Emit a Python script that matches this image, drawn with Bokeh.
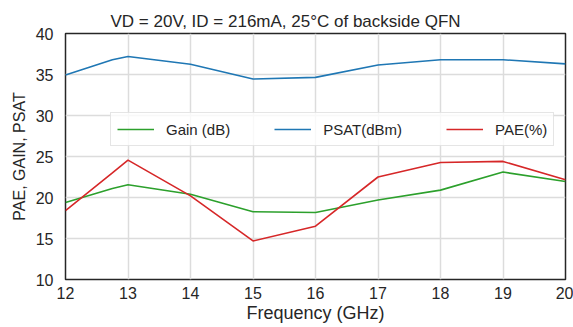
from bokeh.plotting import figure
from bokeh.models import Legend, LegendItem, Title, FixedTicker
from bokeh.embed import file_html
from bokeh.resources import INLINE

freq = [12, 12.75, 13, 14, 15, 16, 17, 18, 19, 20]
gain_db = [19.4, 21.1, 21.55, 20.4, 18.26, 18.17, 19.7, 20.9, 23.1, 21.95]
psat_dbm = [34.95, 36.8, 37.2, 36.25, 34.45, 34.65, 36.15, 36.8, 36.8, 36.3]
pae_pct = [18.4, 23.0, 24.56, 20.2, 14.7, 16.5, 22.5, 24.27, 24.4, 22.16]

x_ticks = [12, 13, 14, 15, 16, 17, 18, 19, 20]
y_ticks = [10, 15, 20, 25, 30, 35, 40]

title_text = "VD = 20V, ID = 216mA, 25°C of backside QFN"
FONT = "Liberation Sans"
TXT = "#262626"

p = figure(width=573, height=327, output_backend="svg", toolbar_location=None,
           x_range=(12, 20), y_range=(10, 40),
           min_border_left=65, min_border_right=8, min_border_top=33, min_border_bottom=48)

p.title = Title(text=title_text, align="left", offset=45, text_font=FONT,
                text_font_size="17px", text_font_style="normal", text_color=TXT, standoff=6)

p.outline_line_color = "#262626"
p.outline_line_width = 1.5
p.background_fill_color = "white"
p.border_fill_color = "white"

for ax in (p.xaxis[0], p.yaxis[0]):
    ax.axis_line_color = None
    ax.major_tick_line_color = None
    ax.minor_tick_line_color = None
    ax.major_tick_out = 0
    ax.major_tick_in = 0
    ax.minor_tick_out = 0
    ax.minor_tick_in = 0
    ax.major_label_text_font = FONT
    ax.major_label_text_font_size = "16px"
    ax.major_label_text_color = TXT
    ax.axis_label_text_font = FONT
    ax.axis_label_text_font_style = "normal"
    ax.axis_label_text_color = TXT

p.xaxis.axis_label_text_font_size = "18px"
p.yaxis.axis_label_text_font_size = "16px"
p.xaxis.ticker = FixedTicker(ticks=x_ticks)
p.yaxis.ticker = FixedTicker(ticks=y_ticks)
p.xaxis.axis_label = "Frequency (GHz)"
p.yaxis.axis_label = "PAE, GAIN, PSAT"
p.xaxis.major_label_standoff = 7
p.yaxis.major_label_standoff = 12
p.xaxis.axis_label_standoff = 1
p.yaxis.axis_label_standoff = 5

p.xgrid.grid_line_color = "#dcdcdc"
p.ygrid.grid_line_color = "#dcdcdc"
p.xgrid.grid_line_width = 1.5
p.ygrid.grid_line_width = 1.5

r_gain = p.line(freq, gain_db, line_color="#2ca02c", line_width=1.6)
r_psat = p.line(freq, psat_dbm, line_color="#1f77b4", line_width=1.6)
r_pae = p.line(freq, pae_pct, line_color="#d62728", line_width=1.6)

legend = Legend(items=[LegendItem(label="Gain (dB)", renderers=[r_gain]),
                       LegendItem(label="PSAT(dBm)", renderers=[r_psat]),
                       LegendItem(label="PAE(%)", renderers=[r_pae])],
                orientation="horizontal", location=(45, 133),
                label_text_font=FONT, label_text_font_size="15px", label_text_color=TXT,
                glyph_width=37, label_standoff=12, spacing=44, padding=6, margin=0,
                border_line_color="#cccccc", border_line_width=1,
                background_fill_color="white", background_fill_alpha=0.8)
p.add_layout(legend, "center")

open("out.html", "w").write(file_html(p, INLINE))
